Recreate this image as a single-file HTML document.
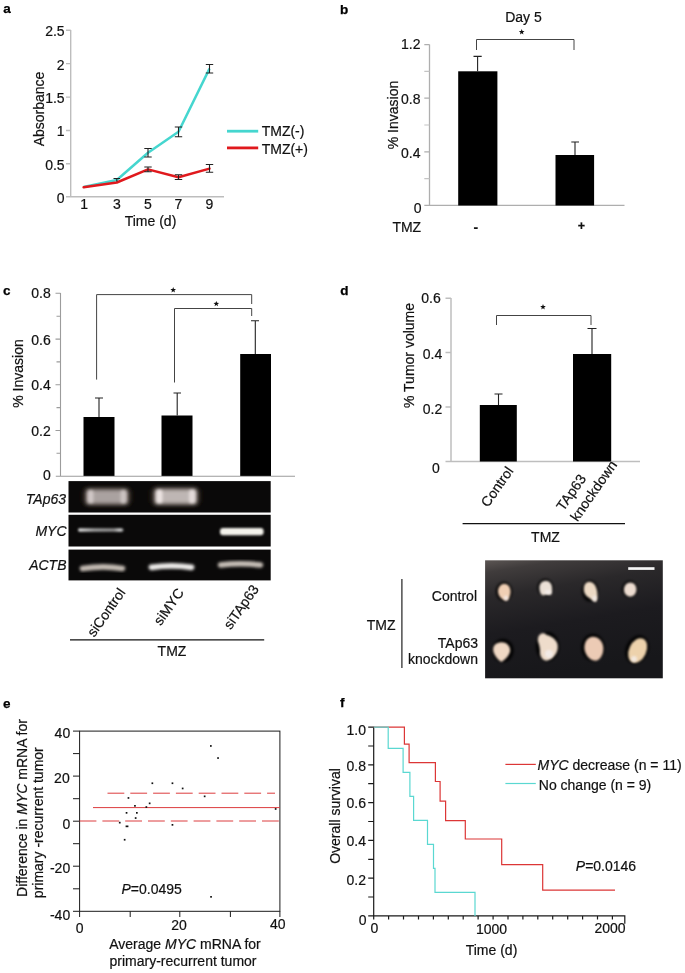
<!DOCTYPE html>
<html>
<head>
<meta charset="utf-8">
<title>Figure</title>
<style>
html,body{margin:0;padding:0;background:#fff;}
body{width:685px;height:973px;overflow:hidden;font-family:"Liberation Sans",sans-serif;}
svg{display:block;will-change:transform;}
text{font-family:"Liberation Sans",sans-serif;fill:#111;font-size:14px;stroke:#111;stroke-width:0.2px;}
.lbl{font-weight:bold;font-size:13.5px;fill:#000;stroke:#000;stroke-width:0.25px;}
.ax{stroke:#b8b8b8;stroke-width:1.2;fill:none;}
.axk{stroke:#111;stroke-width:1.3;fill:none;}
.eb{stroke:#222;stroke-width:1.1;fill:none;}
.br{stroke:#444;stroke-width:1;fill:none;}
.e{text-anchor:end;}
.m{text-anchor:middle;}
.i{font-style:italic;}
</style>
</head>
<body>
<svg width="685" height="973" viewBox="0 0 685 973">
<defs>
<filter id="b1" x="-20%" y="-50%" width="140%" height="200%"><feGaussianBlur stdDeviation="2.3"/></filter>
<filter id="b2" x="-30%" y="-80%" width="160%" height="260%"><feGaussianBlur stdDeviation="1.5"/></filter>
<filter id="b3" x="-30%" y="-100%" width="160%" height="300%"><feGaussianBlur stdDeviation="0.9"/></filter>
<filter id="b4" x="-30%" y="-30%" width="160%" height="160%"><feGaussianBlur stdDeviation="1.6"/></filter>
<path id="star" d="M0 -2.9L0.75 -0.95L2.8 -0.9L1.2 0.4L1.75 2.4L0 1.25L-1.75 2.4L-1.2 0.4L-2.8 -0.9L-0.75 -0.95Z" fill="#111"/>
<filter id="b5" x="-30%" y="-60%" width="160%" height="220%"><feGaussianBlur stdDeviation="3"/></filter>
<filter id="b6" x="-20%" y="-80%" width="140%" height="260%"><feGaussianBlur stdDeviation="1.3"/></filter>
<linearGradient id="gm" gradientUnits="userSpaceOnUse" x1="79" y1="0" x2="122.5" y2="0"><stop offset="0" stop-color="#d8d8d8"/><stop offset="0.35" stop-color="#9a9a9a"/><stop offset="0.8" stop-color="#8a8a8a"/><stop offset="0.94" stop-color="#d0d0d0"/><stop offset="1" stop-color="#a0a0a0"/></linearGradient>
<filter id="b7" x="-30%" y="-30%" width="160%" height="160%"><feGaussianBlur stdDeviation="0.9"/></filter>
<linearGradient id="gph" x1="0" y1="0" x2="0.25" y2="1"><stop offset="0" stop-color="#5c5654"/><stop offset="0.1" stop-color="#403c3c"/><stop offset="0.3" stop-color="#2a282a"/><stop offset="0.6" stop-color="#1c1b1f"/><stop offset="1" stop-color="#17171a"/></linearGradient>
</defs>
<rect width="685" height="973" fill="#fff"/>

<!-- ================= PANEL A ================= -->
<g id="pa">
<text class="lbl" x="3.3" y="13.4">a</text>
<path class="ax" d="M70.7 30V196.8H224M66 30.3H70.7M66 63.6H70.7M66 97.1H70.7M66 130.5H70.7M66 163.8H70.7M66 196.8H70.7" style="stroke:#bdbdbd;stroke-width:1.4"/>
<text class="e" x="64.6" y="36">2.5</text>
<text class="e" x="64.6" y="69.5">2</text>
<text class="e" x="64.6" y="103">1.5</text>
<text class="e" x="64.6" y="136.3">1</text>
<text class="e" x="64.6" y="169.8">0.5</text>
<text class="e" x="64.6" y="202.5">0</text>
<text class="m" x="84.2" y="209">1</text>
<text class="m" x="116.8" y="209">3</text>
<text class="m" x="148" y="209">5</text>
<text class="m" x="178.5" y="209">7</text>
<text class="m" x="209.5" y="209">9</text>
<text class="m" x="150.5" y="225.8">Time (d)</text>
<text class="m" transform="translate(43.5 109) rotate(-90)">Absorbance</text>
<polyline points="83.6,187 116.8,180 148,152.7 178.5,131.8 209.5,68.6" fill="none" stroke="#45d6cf" stroke-width="2.5" stroke-linejoin="round"/>
<polyline points="83.6,187.2 116.8,182.5 148,169.4 178.5,177.2 209.5,168.6" fill="none" stroke="#e0191d" stroke-width="2.5" stroke-linejoin="round" stroke-linecap="round"/>
<!-- error bars -->
<path class="eb" d="M116.8 178.5V181.5M113.5 178.5H120M148 148.5V157M144.3 148.5H151.7M144.3 157H151.7M178.5 127V136.8M174.8 127H182.2M174.8 136.8H182.2M209.5 64.5V73M205.8 64.5H213.2M205.8 73H213.2"/>
<path class="eb" d="M148 167V171.7M144.3 167H151.7M144.3 171.7H151.7M178.5 174.8V179.5M174.8 174.8H182.2M174.8 179.5H182.2M209.5 164.5V172.3M205.8 164.5H213.2M205.8 172.3H213.2"/>
<path d="M227 131.2H258.2" stroke="#45d6cf" stroke-width="2.8"/>
<path d="M227 147.9H258.2" stroke="#e0191d" stroke-width="2.8"/>
<text x="261.7" y="135.6">TMZ(-)</text>
<text x="261.7" y="154.2">TMZ(+)</text>
</g>

<!-- ================= PANEL B ================= -->
<g id="pb">
<text class="lbl" x="340" y="13.6">b</text>
<text class="m" x="523.5" y="22">Day 5</text>
<path class="ax" d="M429.5 44.5V205.4H624.5M424.3 44.7H429.5M424.3 98.2H429.5M424.3 151.8H429.5M424.3 205.4H429.5" style="stroke:#aeaeae;stroke-width:1.3"/>
<path d="M424.3 71.4H429.5M424.3 125H429.5M424.3 178.6H429.5" stroke="#c4c4c4" stroke-width="1.2"/>
<text class="e" x="420.5" y="48.7">1.2</text>
<text class="e" x="420.5" y="104.3">0.8</text>
<text class="e" x="420.5" y="158">0.4</text>
<text class="e" x="421.5" y="212.8">0</text>
<text class="m" transform="translate(397.9 115) rotate(-90)">% Invasion</text>
<rect x="458.2" y="71.3" width="39.2" height="134.2" fill="#000"/>
<rect x="555.5" y="155" width="38.6" height="50.5" fill="#000"/>
<path class="eb" d="M477.6 71.3V56.4M473.5 56.4H481.7M575 155V142M571.3 142H579"/>
<path class="br" d="M476.5 50V39.5H574V50"/>
<use href="#star" x="521.7" y="32"/>
<text x="392.4" y="232">TMZ</text>
<text class="m" x="475.8" y="232" style="font-weight:bold">-</text>
<text class="m" x="581.5" y="230" style="font-size:12.5px;font-weight:bold">+</text>
</g>

<!-- ================= PANEL C ================= -->
<g id="pc">
<text class="lbl" x="3.1" y="294.7">c</text>
<path class="ax" d="M60.5 293V476.3H295M55.5 293.3H60.5M55.5 339.1H60.5M55.5 384.8H60.5M55.5 430.5H60.5M55.8 476.3H60.5M56.5 316.2H60.5M56.5 361.9H60.5M56.5 407.6H60.5M56.5 453.3H60.5" style="stroke:#9c9c9c;stroke-width:1.1"/>
<text class="e" x="50.8" y="297.6">0.8</text>
<text class="e" x="50.8" y="345">0.6</text>
<text class="e" x="50.8" y="389.6">0.4</text>
<text class="e" x="50.8" y="435.6">0.2</text>
<text class="e" x="50.8" y="480.4">0</text>
<text class="m" transform="translate(23 373.5) rotate(-90)">% Invasion</text>
<rect x="83.5" y="417" width="31" height="58.9" fill="#000"/>
<rect x="161.5" y="415.5" width="31" height="60.4" fill="#000"/>
<rect x="240.2" y="354" width="30.8" height="121.9" fill="#000"/>
<path class="eb" d="M99 417V398M95 398H103M177.2 415.5V393M173.5 393H181M255.3 354V320.7M251 320.7H259"/>
<path class="br" d="M96.6 379.6V294.6H251.7V304M174.5 382.5V308.5H251.7V316"/>
<use href="#star" x="173.2" y="290"/>
<use href="#star" x="216.3" y="303.8"/>
<!-- gel -->
<rect x="68.5" y="481.1" width="202.2" height="31.4" fill="#0a0909"/>
<rect x="68.5" y="514.8" width="202.2" height="31.7" fill="#0a0909"/>
<rect x="68.5" y="549.6" width="202.2" height="30.8" fill="#0a0909"/>
<g filter="url(#b5)" fill="#33261e">
<rect x="84" y="489" width="46" height="15" rx="4"/><rect x="152" y="488.5" width="47" height="15.5" rx="4"/>
</g>
<g filter="url(#b1)">
<rect x="86" y="489.3" width="42" height="15" rx="2" fill="#aaa2a0"/>
<rect x="154.5" y="488.8" width="42.5" height="15.5" rx="2" fill="#beb6b4"/>
</g>
<g filter="url(#b2)">
<rect x="88" y="490.5" width="5.5" height="12.5" rx="2" fill="#d0c8c6"/><rect x="120.5" y="490.5" width="5.5" height="12.5" rx="2" fill="#ccc4c2"/>
<rect x="156.5" y="490" width="6" height="13" rx="2" fill="#ece4e2"/><rect x="189" y="490" width="6" height="13" rx="2" fill="#e4dcda"/>
</g>
<g filter="url(#b3)">
<rect x="78" y="528.3" width="45.5" height="3.4" rx="1.6" fill="url(#gm)"/>
</g>
<g filter="url(#b6)">
<rect x="220" y="528" width="43.6" height="7.2" rx="3" fill="#f4f3ec"/>
</g>
<g filter="url(#b2)">
<path d="M82.5 568.6Q102.5 565.2 122.5 568.4" stroke="#c4bcb4" stroke-width="5.6" fill="none" stroke-linecap="round"/>
<path d="M151.5 567.4Q171.5 564.4 191.5 567.4" stroke="#f0eeec" stroke-width="5.8" fill="none" stroke-linecap="round"/>
<path d="M220.5 565Q240.5 562.4 260.5 565" stroke="#c8c0b8" stroke-width="5.4" fill="none" stroke-linecap="round"/>
</g>
<text class="e i" x="66" y="504.3">TAp63</text>
<text class="e i" x="66.5" y="536">MYC</text>
<text class="e i" x="66.5" y="569.6">ACTB</text>
<text class="e" transform="translate(126 592.5) rotate(-55)">siControl</text>
<text class="e" transform="translate(184.5 592.5) rotate(-55)">siMYC</text>
<text class="e" transform="translate(259.5 589) rotate(-55)">siTAp63</text>
<path d="M70 639.8H264.2" stroke="#111" stroke-width="1.2"/>
<text class="m" x="172" y="656.4">TMZ</text>
</g>

<!-- ================= PANEL D ================= -->
<g id="pd">
<text class="lbl" x="340.2" y="294.7">d</text>
<path class="ax" d="M451 298V461.5H640M445.5 298.2H451M445.5 352.6H451M445.5 407H451M445.5 461.5H451" style="stroke:#bebebe;stroke-width:1.5"/>
<text class="e" x="440.7" y="302.8">0.6</text>
<text class="e" x="442.2" y="359.2">0.4</text>
<text class="e" x="442.2" y="414.2">0.2</text>
<text class="e" x="439.8" y="472.6">0</text>
<text class="m" transform="translate(414 355.5) rotate(-90)">% Tumor volume</text>
<rect x="479.8" y="405" width="37" height="56.5" fill="#000"/>
<rect x="573" y="354" width="38.2" height="107.5" fill="#000"/>
<path class="eb" d="M498.5 405V394M494.5 394H502.5M592 354V328.5M587.5 328.5H596.5"/>
<path class="br" d="M496.5 325V315.5H591V325"/>
<use href="#star" x="543" y="307"/>
<text class="e" transform="translate(514 471) rotate(-55)">Control</text>
<text class="e" transform="translate(586.6 478.7) rotate(-55)">TAp63</text>
<text class="e" transform="translate(617.8 464.8) rotate(-55)">knockdown</text>
<path d="M462.6 523.6H625" stroke="#111" stroke-width="1.2"/>
<text class="m" x="545.5" y="542">TMZ</text>
<!-- photo -->
<text x="366.8" y="629.8">TMZ</text>
<path d="M401.9 579V668" stroke="#222" stroke-width="1.2"/>
<text class="e" x="477" y="600.7">Control</text>
<text class="e" x="478" y="647.5">TAp63</text>
<text class="e" x="478" y="663.5">knockdown</text>
<rect x="485.1" y="560.3" width="177.7" height="118" fill="url(#gph)"/>
<g filter="url(#b4)" fill="#000">
<ellipse cx="504" cy="591.5" rx="8" ry="9.5"/><ellipse cx="545.3" cy="587.5" rx="7.8" ry="8.5"/><ellipse cx="590" cy="591" rx="8" ry="10.5"/><ellipse cx="629.8" cy="589.3" rx="7.6" ry="8.2"/>
<ellipse cx="503" cy="650.5" rx="10.5" ry="11.5"/><ellipse cx="547.5" cy="646.5" rx="11.5" ry="14.5"/><ellipse cx="593" cy="647.5" rx="11.5" ry="13.5"/><ellipse cx="637" cy="649.5" rx="11" ry="14.5" transform="rotate(25 637 649.5)"/>
</g>
<g filter="url(#b7)">
<path fill="#f0cfb4" d="M504 583.8C508.5 583.6 511 588 510.6 592.5C510.3 596 508.5 600.5 506.3 600.8C503.5 600.6 498.3 597 498 592C497.8 587.5 500.5 584 504 583.8Z"/>
<path fill="#ebe0d6" d="M545.5 580.8C549.5 580.6 552.3 584 552.2 588.5C552.2 592 552 594.5 550.5 595C548.5 595.3 546 594 543.5 595.5C541 595.5 539.4 592 539.3 588C539.3 584 541.5 581 545.5 580.8Z"/>
<path fill="#ecd9c4" d="M589 581.8C593.5 581.5 596.5 586 597.2 591.5C597.7 595.5 597.6 600 596 601.8C594 602 591 599 588.5 597.5C585 595.5 583.4 592 583.8 588C584.2 584 586 582 589 581.8Z"/>
<path fill="#ecdcd0" d="M630 582.4C634 582.2 636.6 585.5 636.5 589.5C636.4 593.5 634 596.6 630.3 596.7C626.5 596.8 623.8 593.5 623.9 589.6C624 585.6 626.3 582.6 630 582.4Z"/>
<path fill="#efd8c4" d="M501 642.2C506 641.8 510 645.5 510.2 650C510.4 654 506 659 501.5 662C497.5 659.5 493 654 493.1 649.5C493.2 645 496.5 642.5 501 642.2Z"/>
<path fill="#eedccb" d="M541.5 633.5C543.5 632.8 545.5 633.5 546.5 635C550 635.5 554.5 638 557 642.5C558.5 646 558 651 555.5 654.5C553 657.5 550 660.5 546.5 660.7C543 660.5 540.5 657.5 540 653.5C540.3 649.5 539.5 645.5 538 641.5C537.3 638 538.8 634.5 541.5 633.5Z"/>
<path fill="#eccbb5" d="M592.5 636.8C598 636.5 603 641 603.4 648C603.6 654 600.5 660 596 660.7C591 661 586 656.5 584.6 650C583.5 644 586.5 637.3 592.5 636.8Z"/>
<ellipse fill="#edd2ac" cx="637.7" cy="650.5" rx="8.6" ry="13" transform="rotate(25 637.7 650.5)"/>
</g>
<g filter="url(#b7)" fill="#f4f0f0" opacity="0.75">
<ellipse cx="506" cy="598" rx="2.3" ry="2.5"/><ellipse cx="594.5" cy="598.5" rx="2" ry="3"/><ellipse cx="548" cy="592" rx="3" ry="2"/><ellipse cx="549" cy="654" rx="4" ry="4"/><ellipse cx="634" cy="659" rx="3" ry="3"/>
</g>
<rect x="628.2" y="567.2" width="26.3" height="2.7" fill="#f6f6f6"/>
</g>

<!-- ================= PANEL E ================= -->
<g id="pe">
<text class="lbl" x="3" y="708">e</text>
<rect x="79.6" y="731.1" width="200.3" height="180.2" fill="none" stroke="#1a1a1a" stroke-width="1"/>
<path d="M73 731.1H79.6M73 753.6H79.6M73 776.1H79.6M73 798.7H79.6M73 821.2H79.6M73 843.7H79.6M73 866.2H79.6M73 888.8H79.6M73 911.3H79.6M79.6 911.3V917M130.2 911.3V917M179.8 911.3V917M230.4 911.3V917M279.9 911.3V917" stroke="#1a1a1a" stroke-width="1" fill="none"/>
<text class="e" x="70.2" y="737.5">40</text>
<text class="e" x="69.7" y="782.7">20</text>
<text class="e" x="70.2" y="828.8">0</text>
<text class="e" x="70.2" y="873.3">-20</text>
<text class="e" x="70.2" y="919.5">-40</text>
<text class="m" x="79.6" y="932.5">0</text>
<text class="m" x="179" y="930.4">20</text>
<text class="m" x="277.8" y="929">40</text>
<text class="m" x="185" y="949">Average <tspan class="i">MYC</tspan> mRNA for</text>
<text class="m" x="183" y="966">primary-recurrent tumor</text>
<text class="m" transform="translate(26.5 808) rotate(-90)">Difference in <tspan class="i">MYC</tspan> mRNA for</text>
<text class="m" transform="translate(43.2 822.7) rotate(-90)">primary -recurrent tumor</text>
<path d="M107.5 793.2H275" stroke="#dc3c3e" stroke-width="1" stroke-dasharray="16.8 6"/>
<path d="M93 807.6H279.9" stroke="#dc3c3e" stroke-width="1"/>
<path d="M79.6 821H279.9" stroke="#dc3c3e" stroke-width="1" stroke-dasharray="16.8 6"/>
<g fill="#111">
<rect x="118.9" y="821.8" width="1.7" height="1.7"/><rect x="123.8" y="838.9" width="1.7" height="1.7"/><rect x="125.6" y="825.5" width="2.8" height="1.7"/><rect x="125.7" y="812.0" width="1.7" height="1.7"/><rect x="127.6" y="797.1" width="1.7" height="1.7"/><rect x="134.1" y="805.0" width="1.7" height="1.7"/><rect x="136.0" y="812.0" width="1.7" height="1.7"/><rect x="134.8" y="817.2" width="1.7" height="1.7"/><rect x="145.5" y="806.2" width="1.7" height="1.7"/><rect x="148.8" y="802.5" width="1.7" height="1.7"/><rect x="151.5" y="782.4" width="1.7" height="1.7"/><rect x="171.6" y="782.4" width="1.7" height="1.7"/><rect x="171.6" y="824.0" width="1.7" height="1.7"/><rect x="181.8" y="787.6" width="1.7" height="1.7"/><rect x="203.8" y="795.5" width="1.7" height="1.7"/><rect x="210.0" y="745.1" width="1.7" height="1.7"/><rect x="217.2" y="757.2" width="1.7" height="1.7"/><rect x="274.8" y="808.1" width="1.7" height="1.7"/><rect x="210.2" y="896.0" width="1.7" height="1.7"/>
</g>
<text x="121.5" y="894"><tspan class="i">P</tspan>=0.0495</text>
</g>

<!-- ================= PANEL F ================= -->
<g id="pf">
<text class="lbl" x="340" y="707.3">f</text>
<path d="M373.7 726.6V915.9H624.8V923.8M368.2 727.1H373.7M368.2 746.0H373.7M368.2 764.9H373.7M368.2 783.7H373.7M368.2 802.6H373.7M368.2 821.5H373.7M368.2 840.4H373.7M368.2 859.3H373.7M368.2 878.1H373.7M368.2 897.0H373.7M368.2 915.9H373.7M373.7 915.9V919.6M388.6 915.9V919.6M403.5 915.9V919.6M418.5 915.9V919.6M433.4 915.9V919.6M448.3 915.9V919.6M463.2 915.9V919.6M478.1 915.9V919.6M493.1 915.9V919.6M508.0 915.9V919.6M522.9 915.9V919.6M537.8 915.9V919.6M552.7 915.9V919.6M567.7 915.9V919.6M582.6 915.9V919.6M597.5 915.9V919.6M612.4 915.9V919.6" stroke="#1a1a1a" stroke-width="1.2" fill="none"/>
<text class="e" x="366" y="735">1.0</text>
<text class="e" x="366" y="770.5">0.8</text>
<text class="e" x="366" y="808.3">0.6</text>
<text class="e" x="366" y="846.4">0.4</text>
<text class="e" x="366" y="884.9">0.2</text>
<text class="e" x="366.5" y="925.3">0</text>
<text class="m" x="374.3" y="933">0</text>
<text class="m" x="491.5" y="934">1000</text>
<text class="m" x="610" y="932.7">2000</text>
<text class="m" x="491.5" y="954.7">Time (d)</text>
<text class="m" transform="translate(339.7 816) rotate(-90)">Overall survival</text>
<path d="M373.7 727.1H404.4V744.2H409.1V762.6H435.4V781.5H440.1V801.2H445.6V820.6H465.3V839H501.7V864.7H542.7V890.2H615" fill="none" stroke="#dc3636" stroke-width="1.2"/>
<path d="M373.7 727.1H388.2V748.3H403.1V772.3H409.9V796.3H413.6V820.3H427.5V844.3H433.5V868.3H435V892.3H475V915.9" fill="none" stroke="#5ad8d1" stroke-width="1.2"/>
<path d="M505.4 764.4H535.8" stroke="#dc3636" stroke-width="1.2"/>
<path d="M505.4 783.5H535.8" stroke="#5ad8d1" stroke-width="1.2"/>
<text x="537.5" y="770.3"><tspan class="i">MYC</tspan> decrease (n = 11)</text>
<text x="538.8" y="789.6">No change (n = 9)</text>
<text x="575.8" y="870.6"><tspan class="i">P</tspan>=0.0146</text>
</g>
</svg>
</body>
</html>
